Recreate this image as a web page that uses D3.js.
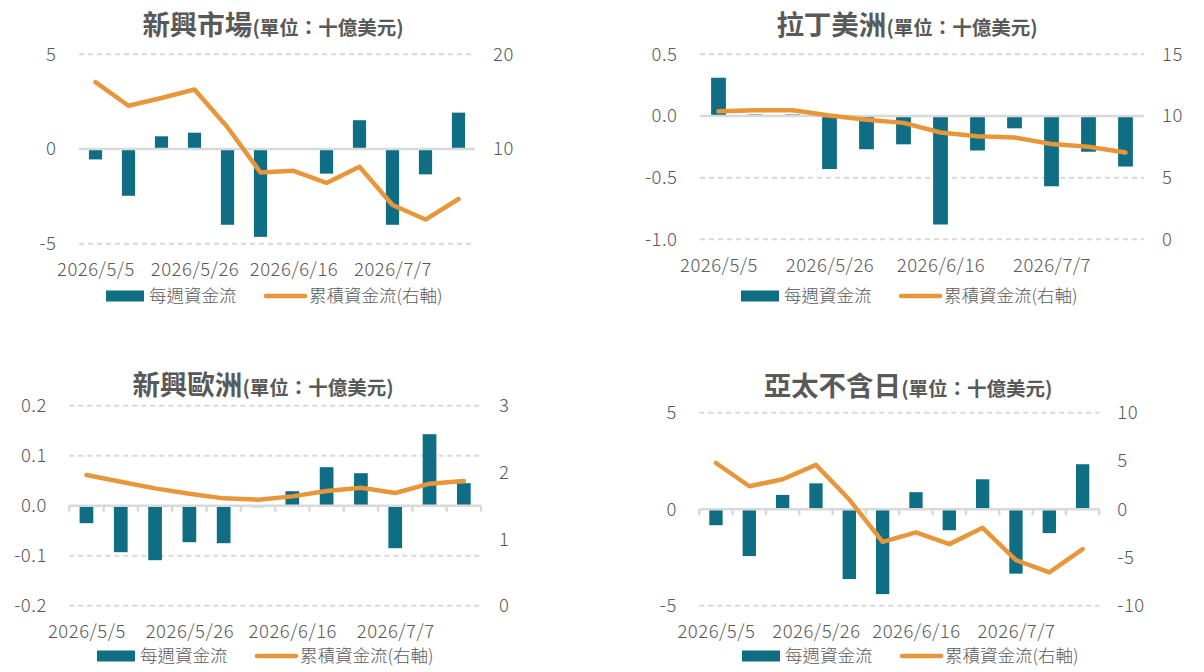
<!DOCTYPE html>
<html>
<head>
<meta charset="utf-8">
<script src="https://cdn.jsdelivr.net/npm/d3@7"></script>
<style>
    body { margin: 0; background: #fff; }
    text { font-family: "Noto Sans CJK TC", "Noto Sans", sans-serif; fill: #595959; }
    .num { font-size: 18.5px; font-weight: 300; letter-spacing: 0.5px; }
    .leg { font-size: 17.5px; font-weight: 300; }
</style>
</head>
<body>
<div id="chart"></div>
<script>
'use strict';
// weekly dates shared by all four panels
var dates = ["2026/5/5", "2026/5/12", "2026/5/19", "2026/5/26", "2026/6/2", "2026/6/9",
    "2026/6/16", "2026/6/23", "2026/6/30", "2026/7/7", "2026/7/14", "2026/7/21"];
var shownDates = ["2026/5/5", "2026/5/26", "2026/6/16", "2026/7/7"];

var legendNames = ["每週資金流", "累積資金流(右軸)"];
var unitText = "(單位：十億美元)";

// 新興市場
var emWeekly = [-0.55, -2.47, 0.67, 0.86, -4.0, -4.64, 0, -1.30, 1.52, -4.0, -1.34, 1.92];
var emCumul = [17.06, 14.57, 15.39, 16.28, 12.30, 7.52, 7.70, 6.42, 8.12, 4.08, 2.55, 4.72];
var emLeftTicks = [-5, 0, 5];
var emRightTicks = [10, 20];

// 拉丁美洲
var latamWeekly = [0.31, 0.012, 0.012, -0.43, -0.27, -0.23, -0.88, -0.28, -0.10, -0.57, -0.29, -0.41];
var latamCumul = [10.38, 10.46, 10.46, 10.03, 9.70, 9.44, 8.66, 8.36, 8.25, 7.72, 7.50, 7.04];
var latamLeftTicks = [-1.0, -0.5, 0.0, 0.5];
var latamRightTicks = [0, 5, 10, 15];

// 新興歐洲
var eeWeekly = [-0.035, -0.093, -0.109, -0.073, -0.075, -0.003, 0.029, 0.077, 0.065, -0.085, 0.143, 0.045];
var eeCumul = [1.96, 1.86, 1.76, 1.68, 1.61, 1.59, 1.64, 1.72, 1.77, 1.69, 1.83, 1.87];
var eeLeftTicks = [-0.2, -0.1, 0.0, 0.1, 0.2];
var eeRightTicks = [0, 1, 2, 3];

// 亞太不含日
var apWeekly = [-0.83, -2.43, 0.74, 1.34, -3.62, -4.40, 0.88, -1.09, 1.55, -3.34, -1.24, 2.33];
var apCumul = [4.79, 2.38, 3.10, 4.59, 1.0, -3.38, -2.41, -3.62, -1.93, -5.28, -6.55, -4.14];
var apLeftTicks = [-5, 0, 5];
var apRightTicks = [-10, -5, 0, 5, 10];

var barColor = "#106e84";
var lineColor = "#e8963a";
var gridColor = "#d9d9d9";

var svg = d3.select("#chart")
    .append("svg")
    .attr("width", 1204)
    .attr("height", 672);

var panels = [
    {title: "新興市場", weekly: emWeekly, cumul: emCumul,
        left: [-5, 5], leftTicks: emLeftTicks, leftFmt: d3.format("d"),
        right: [0, 20], rightTicks: emRightTicks, rightFmt: d3.format("d"),
        x0: 79, x1: 475, y0: 54.3, y1: 243.7, titleX: 273, titleY: 29, legendX: 275, legendY: 296, ticks: false},
    {title: "拉丁美洲", weekly: latamWeekly, cumul: latamCumul,
        left: [-1.0, 0.5], leftTicks: latamLeftTicks, leftFmt: d3.format(".1f"),
        right: [0, 15], rightTicks: latamRightTicks, rightFmt: d3.format("d"),
        x0: 700, x1: 1144, y0: 54.3, y1: 239.3, titleX: 907, titleY: 29, legendX: 910, legendY: 296, ticks: false},
    {title: "新興歐洲", weekly: eeWeekly, cumul: eeCumul,
        left: [-0.2, 0.2], leftTicks: eeLeftTicks, leftFmt: d3.format(".1f"),
        right: [0, 3], rightTicks: eeRightTicks, rightFmt: d3.format("d"),
        x0: 69.3, x1: 481, y0: 405.7, y1: 605.7, titleX: 263, titleY: 389, legendX: 266, legendY: 656, ticks: true},
    {title: "亞太不含日", weekly: apWeekly, cumul: apCumul,
        left: [-5, 5], leftTicks: apLeftTicks, leftFmt: d3.format("d"),
        right: [-10, 10], rightTicks: apRightTicks, rightFmt: d3.format("d"),
        x0: 699.3, x1: 1099.3, y0: 412.7, y1: 605.7, titleX: 908, titleY: 390, legendX: 911, legendY: 656, ticks: true}
];

var minus = function (s) { return s.replace("−", "-"); };

var drawPanel = function (p) {
    var g = svg.append("g").attr("class", "panel");

    var x = d3.scaleBand()
        .domain(dates)
        .range([p.x0, p.x1])
        .paddingInner(0.6)
        .paddingOuter(0.3);
    var yL = d3.scaleLinear().domain(p.left).range([p.y1, p.y0]);
    var yR = d3.scaleLinear().domain(p.right).range([p.y1, p.y0]);

    // dashed gridlines (the zero line is drawn solid below)
    g.selectAll(".grid")
        .data(p.leftTicks.filter(function (t) { return Math.abs(t) > 1e-9; }))
        .enter()
        .append("line")
        .attr("x1", p.x0)
        .attr("x2", p.x1)
        .attr("y1", function (d) { return yL(d); })
        .attr("y2", function (d) { return yL(d); })
        .attr("stroke", gridColor)
        .attr("stroke-width", 2)
        .attr("stroke-dasharray", "5,4");

    // left axis labels
    g.selectAll(".lt")
        .data(p.leftTicks)
        .enter()
        .append("text")
        .attr("class", "num")
        .attr("x", p.x0 - 22.5)
        .attr("y", function (d) { return yL(d); })
        .attr("dy", "0.35em")
        .attr("text-anchor", "end")
        .text(function (d) { return minus(p.leftFmt(d)); });

    // right axis labels
    g.selectAll(".rt")
        .data(p.rightTicks)
        .enter()
        .append("text")
        .attr("class", "num")
        .attr("x", p.x1 + 18)
        .attr("y", function (d) { return yR(d); })
        .attr("dy", "0.35em")
        .attr("text-anchor", "start")
        .text(function (d) { return minus(p.rightFmt(d)); });

    // bars
    g.selectAll(".bar")
        .data(p.weekly)
        .enter()
        .append("rect")
        .attr("x", function (d, i) { return x(dates[i]); })
        .attr("width", x.bandwidth())
        .attr("y", function (d) { return Math.min(yL(d), yL(0)); })
        .attr("height", function (d) { return Math.abs(yL(d) - yL(0)); })
        .attr("fill", barColor);

    // zero axis line
    g.append("line")
        .attr("x1", p.x0)
        .attr("x2", p.x1)
        .attr("y1", yL(0))
        .attr("y2", yL(0))
        .attr("stroke", gridColor)
        .attr("stroke-width", 2.5);

    if (p.ticks) {
        var edges = dates.map(function (d) { return x(d) - x.step() * 0.3; });
        edges.push(p.x1);
        g.selectAll(".tick")
            .data(edges)
            .enter()
            .append("line")
            .attr("x1", function (d) { return d; })
            .attr("x2", function (d) { return d; })
            .attr("y1", yL(0))
            .attr("y2", yL(0) + 6)
            .attr("stroke", gridColor)
            .attr("stroke-width", 2.5);
    }

    // cumulative line on the right axis
    var line = d3.line()
        .x(function (d, i) { return x(dates[i]) + x.bandwidth() / 2; })
        .y(function (d) { return yR(d); });
    g.append("path")
        .datum(p.cumul)
        .attr("d", line)
        .attr("fill", "none")
        .attr("stroke", lineColor)
        .attr("stroke-width", 4.5)
        .attr("stroke-linecap", "round")
        .attr("stroke-linejoin", "round");

    // category labels
    g.selectAll(".xl")
        .data(shownDates)
        .enter()
        .append("text")
        .attr("class", "num")
        .attr("x", function (d) { return x(d) + x.bandwidth() / 2 + 0.5; })
        .attr("y", p.y1 + 26)
        .attr("dy", "0.35em")
        .attr("text-anchor", "middle")
        .text(function (d) { return d; });

    // title
    var t = g.append("text")
        .attr("x", p.titleX)
        .attr("y", p.titleY)
        .attr("dy", "0.35em")
        .attr("text-anchor", "middle")
        .style("font-weight", "bold");
    t.append("tspan").style("font-size", "27.5px").text(p.title);
    t.append("tspan").style("font-size", "19.5px").text(unitText);

    // legend
    var lg = g.append("g").attr("transform", "translate(" + (p.legendX - 169) + "," + p.legendY + ")");
    lg.append("rect")
        .attr("x", 0).attr("y", -5.5)
        .attr("width", 38).attr("height", 11)
        .attr("fill", barColor);
    lg.append("text")
        .attr("class", "leg")
        .attr("x", 43).attr("dy", "0.35em")
        .text(legendNames[0]);
    lg.append("line")
        .attr("x1", 160).attr("x2", 199)
        .attr("stroke", lineColor)
        .attr("stroke-width", 4.5)
        .attr("stroke-linecap", "round");
    lg.append("text")
        .attr("class", "leg")
        .attr("x", 203).attr("dy", "0.35em")
        .text(legendNames[1]);
};

panels.forEach(drawPanel);
</script>
</body>
</html>
